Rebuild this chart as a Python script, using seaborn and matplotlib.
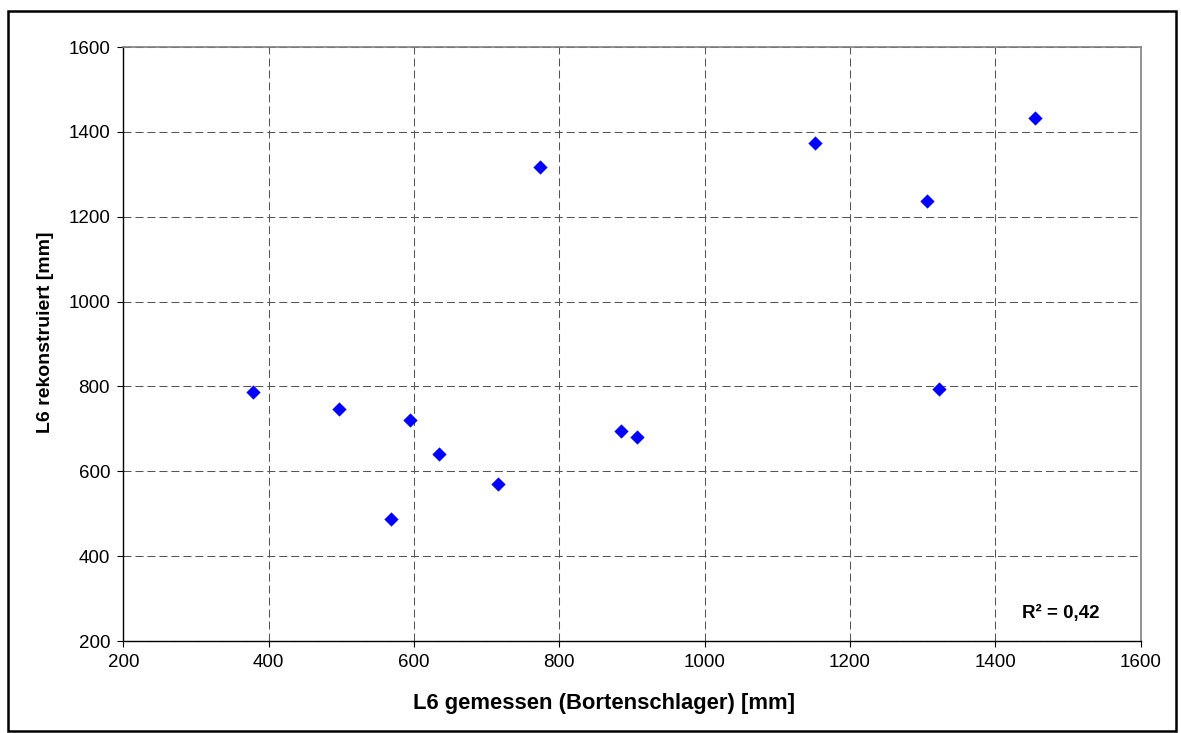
import matplotlib
matplotlib.use("Agg")
import matplotlib.pyplot as plt
import seaborn as sns
import pandas as pd
from matplotlib.patches import Rectangle

# Data
gemessen = [378, 497, 594, 634, 715, 568, 885, 907, 773, 1152, 1455, 1306, 1322]
rekonstruiert = [786, 746, 720, 640, 569, 488, 696, 681, 1318, 1373, 1433, 1238, 793]
x_ticks = [200, 400, 600, 800, 1000, 1200, 1400, 1600]
y_ticks = [200, 400, 600, 800, 1000, 1200, 1400, 1600]
x_label = "L6 gemessen (Bortenschlager) [mm]"
y_label = "L6 rekonstruiert [mm]"
r2_text = "R² = 0,42"

df = pd.DataFrame({"x": gemessen, "y": rekonstruiert})

sns.set_theme(style="white")
plt.rcParams["font.family"] = ["Liberation Sans", "DejaVu Sans"]
plt.rcParams["text.color"] = "black"

W, H = 1181, 733
fig = plt.figure(figsize=(W / 100, H / 100), dpi=100)
left, right, top, bottom = 123.3, 1140.6, 47, 641
ax = fig.add_axes([left / W, 1 - bottom / H, (right - left) / W, (bottom - top) / H])

sns.scatterplot(data=df, x="x", y="y", marker="D", s=48, color="#0000FF",
                edgecolor="#0000FF", linewidth=0.3, ax=ax, zorder=3)

ax.set_xlim(200, 1600)
ax.set_ylim(200, 1600)
ax.set_xticks(x_ticks)
ax.set_yticks(y_ticks)
ax.set_xticklabels([str(t) for t in x_ticks])
ax.set_yticklabels([str(t) for t in y_ticks])

ax.grid(True, which="major", color="#555555", linestyle=(0, (7.7, 3.8)), linewidth=0.75)
ax.set_axisbelow(True)

for s in ["left", "bottom"]:
    ax.spines[s].set_color("black")
    ax.spines[s].set_linewidth(1.0)
for s in ["top", "right"]:
    ax.spines[s].set_color("#808080")
    ax.spines[s].set_linewidth(1.2)

ax.tick_params(axis="both", which="major", direction="out", length=4.5, width=0.8,
               color="black", labelsize=13.5, labelcolor="black", pad=5,
               bottom=True, left=True)

ax.set_xlabel("")
ax.set_ylabel("")
# Axis titles placed as in the reference (pixel positions converted to figure coords)
fig.text(604 / W, 1 - 704 / H, x_label, ha="center", va="center",
         fontsize=15.8, fontweight="bold", color="black")
fig.text(45 / W, 1 - 332 / H, y_label, ha="center", va="center", rotation=90,
         fontsize=14, fontweight="bold", color="black")

ax.text((1100 - left) / (right - left), (bottom - 613) / (bottom - top), r2_text,
        transform=ax.transAxes, ha="right", va="center",
        fontsize=13.5, fontweight="bold", color="black")

# Outer chart border
fig.patches.append(Rectangle((8 / W, 1 - 731 / H), (1176 - 8) / W, (731 - 11) / H,
                             transform=fig.transFigure, fill=False,
                             edgecolor="black", linewidth=1.8))

fig.savefig("out.png", dpi=100, facecolor="white")
